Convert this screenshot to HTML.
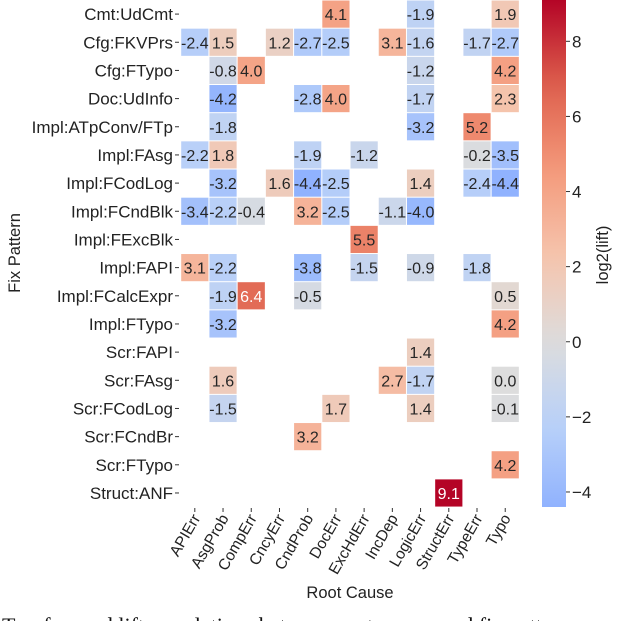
<!DOCTYPE html>
<html><head><meta charset="utf-8"><style>
body{margin:0;background:#fff;width:640px;height:621px;overflow:hidden}
svg{display:block;font-family:"Liberation Sans",sans-serif}
</style></head><body>
<svg id="chart" width="640" height="621">
<defs><linearGradient id="cbgrad" x1="0" y1="1" x2="0" y2="0"></linearGradient></defs>
<g id="cells"></g>
<g id="axes"></g>
<text x="20" y="253" font-size="16.5" fill="#222" text-anchor="middle" transform="rotate(-90 20 253)">Fix Pattern</text>
<text x="350" y="598" font-size="16.5" fill="#222" text-anchor="middle">Root Cause</text>
<text x="608" y="255" font-size="16.5" fill="#222" text-anchor="middle" transform="rotate(-90 608 255)">log2(lift)</text>
<text x="2" y="633" font-size="22" fill="#111" font-family="Liberation Serif, serif">Top-forward lift correlations between root causes and fix patterns</text>
</svg>
<script>
const cols=["APIErr","AsgProb","CompErr","CncyErr","CndProb","DocErr","ExcHdErr","IncDep","LogicErr","StructErr","TypeErr","Typo"];
const rows=["Cmt:UdCmt","Cfg:FKVPrs","Cfg:FTypo","Doc:UdInfo","Impl:ATpConv/FTp","Impl:FAsg","Impl:FCodLog","Impl:FCndBlk","Impl:FExcBlk","Impl:FAPI","Impl:FCalcExpr","Impl:FTypo","Scr:FAPI","Scr:FAsg","Scr:FCodLog","Scr:FCndBr","Scr:FTypo","Struct:ANF"];
const N=null;
const values=[
[N,N,N,N,N,4.1,N,N,-1.9,N,N,1.9],
[-2.4,1.5,N,1.2,-2.7,-2.5,N,3.1,-1.6,N,-1.7,-2.7],
[N,-0.8,4.0,N,N,N,N,N,-1.2,N,N,4.2],
[N,-4.2,N,N,-2.8,4.0,N,N,-1.7,N,N,2.3],
[N,-1.8,N,N,N,N,N,N,-3.2,N,5.2,N],
[-2.2,1.8,N,N,-1.9,N,-1.2,N,N,N,-0.2,-3.5],
[N,-3.2,N,1.6,-4.4,-2.5,N,N,1.4,N,-2.4,-4.4],
[-3.4,-2.2,-0.4,N,3.2,-2.5,N,-1.1,-4.0,N,N,N],
[N,N,N,N,N,N,5.5,N,N,N,N,N],
[3.1,-2.2,N,N,-3.8,N,-1.5,N,-0.9,N,-1.8,N],
[N,-1.9,6.4,N,-0.5,N,N,N,N,N,N,0.5],
[N,-3.2,N,N,N,N,N,N,N,N,N,4.2],
[N,N,N,N,N,N,N,N,1.4,N,N,N],
[N,1.6,N,N,N,N,N,2.7,-1.7,N,N,0.0],
[N,-1.5,N,N,N,1.7,N,N,1.4,N,N,-0.1],
[N,N,N,N,3.2,N,N,N,N,N,N,N],
[N,N,N,N,N,N,N,N,N,N,N,4.2],
[N,N,N,N,N,N,N,N,N,9.1,N,N]];
const cbTicks=[-4,-2,0,2,4,6,8];
const vmin=-4.4,vmax=9.1;

const NS="http://www.w3.org/2000/svg";
const X0=180.7,CW=28.22,Y0=0,RH=28.17;
const CBX=542,CBW=24,CBT=0,CBB=507;
const xs=i=>X0+i*CW, ys=j=>Y0+j*RH;
const cbY=v=>CBB-(v-vmin)/(vmax-vmin)*(CBB-CBT);
const cm=[[0,59,76,192],[0.125,98,130,234],[0.25,141,176,254],[0.375,184,208,249],[0.5,221,221,221],[0.625,245,196,173],[0.75,244,154,123],[0.875,222,96,77],[1,180,4,38]];
function coolwarm(t){t=Math.max(0,Math.min(1,t));for(let k=1;k<cm.length;k++){if(t<=cm[k][0]){const a=cm[k-1],b=cm[k],f=(t-a[0])/(b[0]-a[0]);return [1,2,3].map(i=>Math.round(a[i]+(b[i]-a[i])*f));}}return cm[8].slice(1);}
const R=Math.max(Math.abs(vmin),Math.abs(vmax));
const col=v=>coolwarm(0.5+v/(2*R));
function el(tag,attrs,parent){const e=document.createElementNS(NS,tag);for(const k in attrs)e.setAttribute(k,attrs[k]);parent.appendChild(e);return e;}
const cells=document.getElementById('cells'),axes=document.getElementById('axes');
values.forEach((row,j)=>row.forEach((v,i)=>{
 if(v===null)return;
 const c=col(v);
 const r=el('rect',{x:xs(i)+0.5,y:ys(j)+0.5,width:CW-1,height:RH-1,fill:`rgb(${c})`},cells);
 
 
 const lum=0.299*c[0]+0.587*c[1]+0.114*c[2];
 const t=el('text',{x:xs(i)+CW/2,y:ys(j)+RH/2+6,'font-size':16,'text-anchor':'middle',fill:lum<150?'#fff':'#262626'},cells);
 t.textContent=v.toFixed(1);
 
 
}));
rows.forEach((n,j)=>{
 const y=ys(j)+RH/2;
 el('line',{x1:175,x2:179,y1:y,y2:y,stroke:'#333'},axes);
 const t=el('text',{x:173,y:y+6,'font-size':17,'text-anchor':'end',fill:'#222'},axes);
 t.textContent=n;
 
 
});
cols.forEach((n,i)=>{
 const x=xs(i)+CW/2;
 el('line',{x1:x,x2:x,y1:508,y2:512,stroke:'#333'},axes);
 const t=el('text',{x:x+6,y:518,'font-size':15.5,'text-anchor':'end',fill:'#222',transform:`rotate(-60 ${x+6} 518)`},axes);
 t.textContent=n;
 
 
});
const g=document.getElementById('cbgrad');
for(let k=0;k<=20;k++){const v=vmin+(vmax-vmin)*k/20;el('stop',{offset:(k/20),'stop-color':`rgb(${col(v)})`},g);}
const cb=el('rect',{x:CBX,y:CBT,width:CBW,height:CBB-CBT,fill:'url(#cbgrad)'},axes);


cbTicks.forEach(v=>{
 const y=cbY(v);
 el('line',{x1:CBX+CBW,x2:CBX+CBW+4,y1:y,y2:y,stroke:'#333'},axes);
 const t=el('text',{x:CBX+CBW+6,y:y+6,'font-size':17,fill:'#222'},axes);
 t.textContent=v<0?'\u2212'+Math.abs(v):String(v);
 
 
});
</script>
</body></html>
